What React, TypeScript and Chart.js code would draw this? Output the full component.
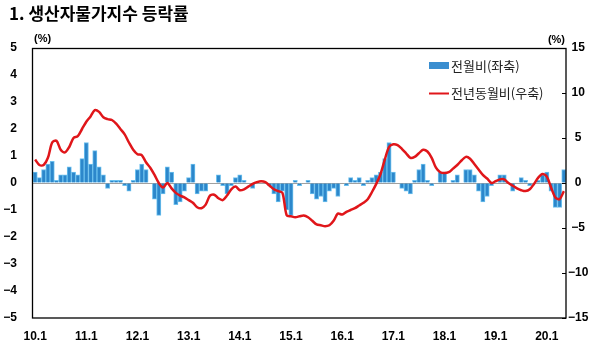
import React, { useEffect, useRef } from "react";
import { Chart, registerables } from "chart.js";

Chart.register(...registerables);

const years = [10, 11, 12, 13, 14, 15, 16, 17, 18, 19, 20];
const monthCount = 125;
const categories: string[] = [];
for (const y of years) {
  for (let m = 1; m <= 12; m++) {
    if (categories.length < monthCount) categories.push(`${y}.${m}`);
  }
}

// 전월비 (좌축, %)
const momValues = [
  0.4, 0.2, 0.5, 0.7, 0.8, 0.1, 0.3, 0.3, 0.6, 0.4, 0.3, 0.9,
  1.5, 0.7, 1.2, 0.6, 0.3, -0.2, 0.1, 0.1, 0.1, -0.1, -0.3, 0.1,
  0.5, 0.7, 0.5, 0.0, -0.6, -1.2, -0.4, 0.6, 0.4, -0.8, -0.7, -0.3,
  0.2, 0.7, -0.4, -0.3, -0.3, 0.0, 0.0, 0.3, -0.1, -0.4, -0.1, 0.2,
  0.3, 0.1, 0.0, -0.2, 0.0, 0.0, 0.0, -0.1, -0.4, -0.7, -0.3, -1.0,
  -1.2, 0.1, -0.1, 0.0, 0.1, -0.4, -0.6, -0.5, -0.7, -0.3, -0.2, -0.5,
  0.0, -0.1, 0.2, 0.1, 0.2, -0.1, 0.1, 0.2, 0.3, 0.4, 0.9, 1.5,
  0.4, 0.0, -0.2, -0.3, -0.4, 0.1, 0.5, 0.7, 0.1, -0.1, 0.0, 0.4,
  0.4, 0.0, 0.1, 0.3, 0.0, 0.5, 0.5, 0.3, -0.3, -0.7, -0.5, -0.1,
  0.0, 0.3, 0.3, 0.0, -0.3, 0.0, 0.2, 0.1, -0.1, 0.0, 0.1, 0.3,
  0.4, -0.3, -0.9, -0.9, 0.5,
];

// 전년동월비 (우축, %)
const yoyValues = [
  2.6, 2.0, 2.0, 2.8, 4.5, 4.7, 3.7, 3.4, 4.0, 5.0, 5.2, 6.0,
  6.8, 7.4, 8.1, 7.9, 7.3, 7.1, 7.0, 6.6, 6.0, 5.4, 4.5, 3.7,
  3.2, 3.1, 2.3, 1.7, 0.9, 0.0, -0.5, 0.0, -0.6, -1.1, -1.4, -1.6,
  -1.9, -2.2, -2.7, -2.8, -2.4, -1.4, -1.3, -1.7, -1.9, -1.4, -0.7, -0.4,
  -0.8, -0.7, -0.4, -0.1, 0.1, 0.2, 0.1, -0.3, -0.7, -0.9, -1.1, -3.6,
  -3.7, -3.8, -3.7, -3.6, -3.8, -4.2, -4.6, -4.7, -4.8, -4.7, -4.2, -3.4,
  -3.5, -3.2, -3.0, -2.8, -2.5, -2.2, -1.8, -1.0, -0.1, 1.0, 2.6, 4.0,
  4.3, 4.2, 3.8, 3.3, 2.8, 2.9, 3.3, 3.7, 3.5, 2.8, 1.7, 1.2,
  1.1, 1.2, 1.6, 2.0, 2.5, 2.9, 2.7, 2.1, 1.5, 0.9, 0.5, 0.0,
  0.2, 0.4, 0.4, 0.0, -0.3, -0.6, -0.8, -0.9, -0.7, -0.1, 0.6, 1.0,
  0.7, -0.5, -1.6, -1.8, -0.9,
];

const leftTicks = [-5, -4, -3, -2, -1, 0, 1, 2, 3, 4, 5];
const rightTicks = [-15, -10, -5, 0, 5, 10, 15];

const title = "1. 생산자물가지수 등락률";
const momLabel = "전월비(좌축)";
const yoyLabel = "전년동월비(우축)";
const unitLabel = "(%)";

const fmt = (v: number) => (v < 0 ? `\u2212${Math.abs(v)}` : `${v}`);

const decorPlugin = {
  id: "decor",
  afterDatasetsDraw(chart: any) {
    const { ctx, chartArea } = chart;
    const { left, right, top, bottom } = chartArea;
    ctx.save();
    // plot frame
    ctx.strokeStyle = "#000";
    ctx.lineWidth = 1.3;
    ctx.strokeRect(Math.round(left) - 0.5, Math.round(top) + 0.5, Math.round(right - left) + 0.5, Math.round(bottom - top) - 0.5);
    // right axis inner ticks
    const y1 = chart.scales.y1;
    ctx.lineWidth = 1;
    for (const t of rightTicks) {
      const py = Math.round(y1.getPixelForValue(t)) + 0.5;
      ctx.beginPath();
      ctx.moveTo(right - 4, py);
      ctx.lineTo(right, py);
      ctx.stroke();
    }
    // title
    ctx.fillStyle = "#000";
    ctx.textBaseline = "middle";
    ctx.textAlign = "left";
    ctx.font = "bold 17px 'Noto Sans CJK KR', sans-serif";
    ctx.fillText(title, 9, 14);
    // units
    ctx.font = "bold 11px 'Liberation Sans', Arial, sans-serif";
    ctx.textAlign = "left";
    ctx.fillText(unitLabel, 34, 39);
    ctx.textAlign = "right";
    ctx.fillText(unitLabel, 565, 40);
    // legend
    ctx.fillStyle = "#3A8ED0";
    ctx.fillRect(429, 62, 20, 7);
    ctx.strokeStyle = "#E0161A";
    ctx.lineWidth = 2;
    ctx.beginPath();
    ctx.moveTo(429, 93.5);
    ctx.lineTo(449, 93.5);
    ctx.stroke();
    ctx.fillStyle = "#222";
    ctx.textAlign = "left";
    ctx.font = "13px 'Noto Sans CJK KR', sans-serif";
    ctx.fillText(momLabel, 451, 66);
    ctx.fillText(yoyLabel, 451, 93);
    ctx.restore();
  },
};

export default function App() {
  const ref = useRef<HTMLCanvasElement | null>(null);
  useEffect(() => {
    if (!ref.current) return;
    const tickFont = { family: "'Liberation Sans', Arial, sans-serif", size: 12, weight: "bold" as const };
    const chart = new Chart(ref.current, {
      data: {
        labels: categories,
        datasets: [
          {
            type: "line",
            label: yoyLabel,
            data: yoyValues,
            yAxisID: "y1",
            borderColor: "#E0161A",
            borderWidth: 2.5,
            pointRadius: 0,
            tension: 0.3,
            order: 0,
          },
          {
            type: "bar",
            label: momLabel,
            data: momValues,
            yAxisID: "y",
            backgroundColor: "#2C87CB",
            borderColor: "#6CC0EE",
            borderWidth: 1,
            barPercentage: 1,
            categoryPercentage: 1,
            order: 1,
          },
        ],
      } as any,
      options: {
        responsive: false,
        animation: false,
        devicePixelRatio: 1,
        layout: { padding: { top: 48, left: 0, right: 0, bottom: 0 } },
        plugins: { legend: { display: false }, tooltip: { enabled: false } },
        scales: {
          x: {
            type: "category",
            grid: { display: false },
            border: { display: false },
            ticks: {
              autoSkip: false,
              maxRotation: 0,
              minRotation: 0,
              padding: 3,
              color: "#000",
              font: tickFont,
              callback: (_v: any, i: number) => (categories[i].endsWith(".1") && !categories[i].endsWith(".11") ? categories[i] : ""),
            },
            afterFit: (s: any) => {
              s.height = 35;
            },
          },
          y: {
            position: "left",
            min: -5,
            max: 5,
            afterBuildTicks: (s: any) => {
              s.ticks = leftTicks.map((v) => ({ value: v }));
            },
            grid: {
              drawTicks: false,
              color: (c: any) => (c.tick && c.tick.value === 0 ? "#A0A0A0" : "rgba(0,0,0,0)"),
              lineWidth: 1,
            },
            border: { display: false },
            ticks: { padding: 16, color: "#000", font: tickFont, callback: (v: any) => fmt(Number(v)) },
            afterFit: (s: any) => {
              s.width = 33;
            },
          },
          y1: {
            position: "right",
            min: -15,
            max: 15,
            afterBuildTicks: (s: any) => {
              s.ticks = rightTicks.map((v) => ({ value: v }));
            },
            grid: { display: false, drawTicks: false },
            border: { display: false },
            ticks: { padding: 2, crossAlign: "center", color: "#000", font: tickFont, callback: (v: any) => fmt(Number(v)) },
            afterFit: (s: any) => {
              s.width = 40;
            },
          },
        },
      } as any,
      plugins: [decorPlugin],
    });
    return () => chart.destroy();
  }, []);
  return (
    <div style={{ position: "fixed", left: 0, top: 0, width: 606, height: 353, background: "#fff" }}>
      <canvas ref={ref} width={606} height={353} style={{ width: 606, height: 353 }} />
    </div>
  );
}
